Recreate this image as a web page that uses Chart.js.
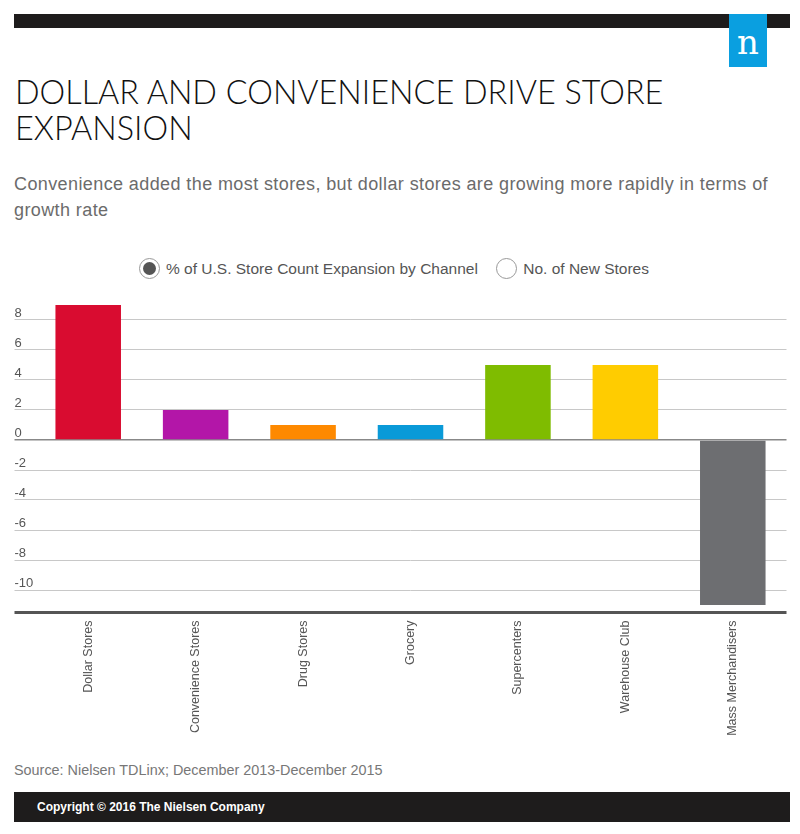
<!DOCTYPE html>
<html>
<head>
<meta charset="utf-8">
<script src="https://cdn.jsdelivr.net/npm/chart.js@4"></script>
<style>
  body { margin: 0; background: #fff; width: 800px; height: 834px; position: relative; overflow: hidden; font-family: "Liberation Sans", Arial, sans-serif; }
  .topbar { position: absolute; left: 14px; top: 14px; width: 776px; height: 14px; background: #1e1c1c; }
  .logo { position: absolute; left: 729px; top: 14px; width: 38px; height: 53px; background: #0a9fe0; color: #fff;
          font-family: "DejaVu Serif", serif; font-size: 34px; text-align: center; line-height: 50px; padding-top: 3px; box-sizing: border-box; }
  h1 { position: absolute; left: 15px; top: 74px; margin: 0; width: 700px; font-family: Lato, sans-serif; font-weight: 300;
       font-size: 32.4px; line-height: 36px; color: #111; }
  .sub { position: absolute; left: 14px; top: 171px; width: 780px; margin: 0; font-size: 18px; letter-spacing: 0.4px; line-height: 26px; color: #6b6b6b; }
  .legend { position: absolute; top: 258px; left: 139px; font-size: 15.5px; color: #555; }
  .legend span { display: inline-block; vertical-align: middle; }
  .radio { width: 21px; height: 21px; border-radius: 50%; border: 1.5px solid #999; box-sizing: border-box; margin-right: 6px; position: relative; }
  .radio.on::after { content: ""; position: absolute; left: 2.5px; top: 2.5px; width: 13px; height: 13px; border-radius: 50%; background: #555; }
  .wrap { position: absolute; left: 0; top: 290px; width: 800px; height: 460px; }
  .source { position: absolute; left: 14px; top: 762px; font-size: 14.4px; color: #777; }
  .footer { position: absolute; left: 14px; top: 792px; width: 776px; height: 30px; background: #1e1c1c; color: #fff;
            font-size: 12px; font-weight: bold; line-height: 30px; padding-left: 23px; box-sizing: border-box; }
</style>
</head>
<body>
<div class="topbar"></div>
<div class="logo">n</div>
<h1>DOLLAR AND CONVENIENCE DRIVE STORE EXPANSION</h1>
<p class="sub">Convenience added the most stores, but dollar stores are growing more rapidly in terms of growth rate</p>
<div class="legend">
  <span class="radio on"></span><span>% of U.S. Store Count Expansion by Channel</span>
  <span class="radio" style="margin-left:14px"></span><span>No. of New Stores</span>
</div>
<div class="wrap"><canvas id="chart"></canvas></div>
<div class="source">Source: Nielsen TDLinx; December 2013-December 2015</div>
<div class="footer">Copyright © 2016 The Nielsen Company</div>

<script>
const channels = ['Dollar Stores', 'Convenience Stores', 'Drug Stores', 'Grocery', 'Supercenters', 'Warehouse Club', 'Mass Merchandisers'];
const expansionPct = [9, 2, 1, 1, 5, 5, -11];
const barColors = ['#d90c30', '#b316a8', '#fe8900', '#0a9ad8', '#7fbc00', '#ffcc00', '#6d6e71'];
const yTicks = [-10, -8, -6, -4, -2, 0, 2, 4, 6, 8];
const yMin = -11.5;
const yMax = 9.5;

function lineColor(c) {
    if (!c.tick) return '#c8c8c8';
    if (c.tick.value === yMin) return '#555';
    if (c.tick.value === 0) return '#888';
    return '#c8c8c8';
}

const ctx = document.getElementById('chart');
new Chart(ctx, {
    type: 'bar',
    data: {
        labels: channels,
        datasets: [{
            label: '% of U.S. Store Count Expansion by Channel',
            data: expansionPct,
            backgroundColor: barColors,
            borderWidth: 0,
            barPercentage: 0.61,
            categoryPercentage: 1
        }]
    },
    options: {
        responsive: true,
        maintainAspectRatio: false,
        animation: false,
        layout: { padding: { left: 14.5, right: 13.5, top: 7.5, bottom: 0 } },
        plugins: { legend: { display: false }, tooltip: { enabled: false } },
        scales: {
            x: {
                grid: { display: false },
                border: { display: false },
                ticks: {
                    minRotation: 90, maxRotation: 90, padding: 0,
                    color: '#555', font: { family: 'Liberation Sans', size: 12.5 }
                },
                afterFit: (scale) => { scale.height = 137.5; }
            },
            y: {
                min: yMin,
                max: yMax,
                afterBuildTicks: (scale) => {
                    scale.ticks = [yMin].concat(yTicks).map(v => ({ value: v }));
                },
                afterFit: (scale) => { scale.width = 20; },
                border: { display: false },
                grid: {
                    drawTicks: true,
                    tickLength: 20,
                    color: lineColor,
                    tickColor: lineColor,
                    lineWidth: (c) => c.tick && c.tick.value === yMin ? 3 : (c.tick && c.tick.value === 0 ? 1.5 : 1)
                },
                ticks: {
                    mirror: true,
                    padding: -20,
                    labelOffset: -7,
                    color: '#555',
                    font: { family: 'Liberation Sans', size: 13 },
                    callback: (v) => v === yMin ? '' : v
                }
            }
        }
    }
});
</script>
</body>
</html>
